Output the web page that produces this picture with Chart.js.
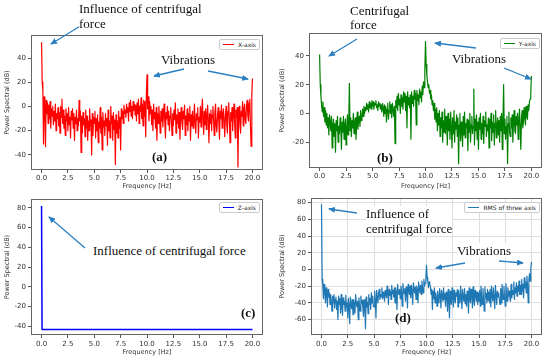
<!DOCTYPE html>
<html>
<head>
<meta charset="utf-8">
<script src="https://cdn.jsdelivr.net/npm/chart.js@4.4.0/dist/chart.umd.min.js"></script>
<style>
body { margin: 0; background: #fff; }
#page { position: relative; width: 550px; height: 360px; overflow: hidden; background: #fff; }
canvas { position: absolute; }
.ann { position: absolute; font-family: 'Liberation Serif', serif; font-size: 13px; line-height: 15px; color: #111; white-space: nowrap; background: #fff; }
.lbl { position: absolute; font-family: 'Liberation Serif', serif; font-size: 13px; line-height: 15px; font-weight: bold; color: #111; }
.leg { position: absolute; box-sizing: border-box; height: 11px; border: 1px solid #ccc; border-radius: 2px; background: #fff;
       font: 6px 'DejaVu Sans', sans-serif; color: #222; display: flex; align-items: center; padding: 0 3px; white-space: nowrap; }
.leg i { display: inline-block; width: 11px; height: 1.5px; margin-right: 4px; }
svg { position: absolute; left: 0; top: 0; }
</style>
</head>
<body>
<div id="page">
  <canvas id="chartX" width="275" height="190" style="left:0;top:0"></canvas>
  <canvas id="chartY" width="275" height="190" style="left:275px;top:0"></canvas>
  <canvas id="chartZ" width="275" height="170" style="left:0;top:190px"></canvas>
  <canvas id="chartRms" width="275" height="170" style="left:275px;top:190px"></canvas>

  <svg width="550" height="360">
    <defs>
      <marker id="ah" markerWidth="7" markerHeight="6" refX="6" refY="3" orient="auto" markerUnits="userSpaceOnUse">
        <path d="M0,0 L7,3 L0,6 z" fill="#2c7fc0"/>
      </marker>
    </defs>
    <g stroke="#2c7fc0" stroke-width="1.3" marker-end="url(#ah)">
      <line x1="82" y1="25" x2="51" y2="44"/>
      <line x1="184" y1="69" x2="154" y2="76"/>
      <line x1="208" y1="71" x2="248" y2="79"/>
      <line x1="357" y1="39" x2="329" y2="56"/>
      <line x1="476" y1="48" x2="435" y2="43"/>
      <line x1="504" y1="68" x2="531" y2="79"/>
      <line x1="85" y1="248" x2="49" y2="217"/>
      <line x1="357" y1="213" x2="329" y2="209"/>
      <line x1="465" y1="263" x2="436" y2="268"/>
      <line x1="499" y1="261" x2="523" y2="263"/>
    </g>
  </svg>

  <div class="ann" style="left:79px;top:1px">Influence of centrifugal<br>force</div>
  <div class="ann" style="left:161px;top:52px">Vibrations</div>
  <div class="ann" style="left:350px;top:4px;line-height:13.5px">Centrifugal<br>force</div>
  <div class="ann" style="left:452px;top:51px">Vibrations</div>
  <div class="ann" style="left:93px;top:243px">Influence of centrifugal force</div>
  <div class="ann" style="left:366px;top:206px">Influence of<br>centrifugal force</div>
  <div class="ann" style="left:457px;top:243px">Vibrations</div>

  <div class="lbl" style="left:152px;top:149px">(a)</div>
  <div class="lbl" style="left:377px;top:150px">(b)</div>
  <div class="lbl" style="left:241px;top:305px">(c)</div>
  <div class="lbl" style="left:395px;top:310px">(d)</div>

  <div class="leg" style="right:290px;top:39px"><i style="background:#ff0000"></i>X-axis</div>
  <div class="leg" style="right:10px;top:38px"><i style="background:#008000"></i>Y-axis</div>
  <div class="leg" style="right:290px;top:202px"><i style="background:#0000ff"></i>Z-axis</div>
  <div class="leg" style="right:10px;top:202px"><i style="background:#1f77b4"></i>RMS of three axis</div>
</div>

<script>
// spectrum bins are 0.0625 Hz apart, 0 .. 20 Hz (one row = 1 Hz)
const freqStep = 0.0625;

const xTicks = [0, 2.5, 5, 7.5, 10, 12.5, 15, 17.5, 20];
const yTicksX = [-40, -20, 0, 20, 40];
const yTicksY = [-20, 0, 20, 40];
const yTicksZ = [-40, -20, 0, 20, 40, 60, 80];
const yTicksRms = [-60, -40, -20, 0, 20, 40, 60, 80];

// (a) X-axis power spectrum (dB)
const xPower = [
    53, 20, 13, -31, 8, 2, -33, 5, -6, 3, -14, 1, -10, 4, -18, -2,
    -8, 0, -15, -4, -12, 2, -20, -6, -10, -1, -16, -5, -22, 0, -9, 6,
    -14, -3, -18, -8, -24, -2, -12, -6, -20, -1, -15, -9, -26, -4, -11, -2,
    -18, -6, -28, -9, -14, -3, -20, -10, -16, 5, -12, -4, -38, -8, -22, -5,
    -15, -10, -25, -3, -18, -8, -28, -12, -20, -2, -16, -11, -40, -6, -24, -9,
    -14, -4, -26, -10, -20, -7, -30, -13, -18, -1, -22, -9, -36, -5, -17, -12,
    -24, -6, -16, -10, -32, -3, -20, -12, -26, 0, -14, -8, -28, -5, -19, -11,
    -48, -7, -22, -12, -26, -4, -18, -9, -36, -2, -10, -4, -14, 1, -6, -3,
    -9, 2, -5, -1, -12, 3, -4, 5, -8, 0, -10, 4, -3, 2, -7, 1,
    -12, 3, -6, 6, -14, 0, -4, 7, -10, 2, -16, 5, -8, 4, -25, 9,
    26, -2, 8, -12, 4, -6, 0, -15, -3, -20, 2, -10, -5, -18, -1, -28,
    -6, -14, 0, -9, -22, -4, -12, -2, -17, -7, 2, -13, -26, -5, -10, 0,
    -15, -4, -20, -8, -1, -12, -24, -6, -16, -3, -11, 3, -22, -7, -14, -2,
    -18, -5, -27, -9, -1, -13, -19, -4, -10, 1, -24, -8, -15, -2, -20, -6,
    -12, 0, -28, -7, -16, -4, -18, -10, 2, -14, -22, -6, -11, -1, -26, -9,
    -13, 0, -17, -5, 6, -10, -23, -4, -15, -2, -19, -8, 1, -12, -30, -6,
    -14, -3, -20, -7, 0, -11, -24, -5, 2, -16, -21, -8, -1, -13, -27, -4,
    -10, 1, -18, -6, -2, -12, -25, -7, 0, -15, -22, -4, 3, -11, -30, -5,
    -12, -1, -20, -6, 2, -14, -26, -3, -9, -1, -50, -7, 0, -15, -22, -4,
    -8, 4, -16, -2, 2, -11, -14, 1, 5, -8, -12, 3, 6, -17, -33, 10,
    23
];

// (b) Y-axis power spectrum (dB)
const yPower = [
    41, 20, 12, 6, 1, 8, -2, 4, -6, 2, -8, 0, -10, -3, -15, -1,
    -6, -12, -2, -24, -8, -4, -16, -7, -27, -5, -12, -2, -20, -9, -14, -3,
    -10, -25, -6, -13, -2, -18, -8, -4, -22, -11, -1, -15, -7, 21, -12, -3,
    -16, -5, -10, 0, -14, -6, -3, -18, -8, 1, -11, -4, -2, -9, 2, -5,
    -4, 3, -2, 5, 0, 4, 2, 7, 3, 6, 1, 8, 4, 7, 3, 9,
    5, 8, 3, 7, 6, 9, 4, 6, 2, 8, 5, 7, 3, 6, 1, 7,
    4, -2, 6, 0, 5, -6, 3, 7, -4, 2, 8, 0, 6, -3, 7, 2,
    -2, 5, -21, 9, 4, 12, 2, 14, 6, 10, 0, 13, 5, 11, 3, 15,
    8, 14, 2, 12, -10, 15, 6, 11, 4, 13, -18, 15, 7, 12, 5, 16,
    10, 14, -8, 16, 9, 13, 6, 17, 11, 15, 8, 19, 13, 22, 18, 30,
    50, 34, 27, 22, 18, 20, 14, 16, 10, 13, 6, 9, 2, 7, -4, 3,
    -6, 4, -12, 0, -8, 2, -16, -3, -10, 1, -20, -5, -13, 3, -14, -2,
    -9, -22, 0, -12, -4, -18, 1, -10, -24, -3, -14, 2, -20, -6, -11, -1,
    -16, -3, -35, -8, 0, -19, -6, -12, -23, -2, -15, 1, -17, -7, -10, -4,
    -26, -5, -13, 0, -20, -8, -2, -14, -9, 17, -22, -4, -12, -1, -18, -6,
    -25, -3, -11, 0, -18, -7, -14, -2, -21, -5, -9, 1, -16, -8, -12, -3,
    -24, -4, -10, 0, -19, -6, -13, -1, -22, -7, 2, -17, -9, -3, -15, -5,
    -20, -2, -12, 0, -25, -6, 20, -14, -4, -18, -9, -2, -35, -7, 1, -13,
    -16, -3, -10, -1, -20, -6, 2, -12, -14, -2, -8, 0, -18, -5, 3, -9,
    -25, -4, 2, -10, -6, 4, -3, -8, 5, -1, -4, 6, 2, 8, 10, 14,
    26
];

// (c) Z-axis: one spike at 0 Hz, flat floor after it
const zFreq = [0, 0.05, 20];
const zPower = [82, -43.5, -43.5];

// (d) RMS of the three axes (dB)
const rmsPower = [
    78, -12, -20, -35, -18, -26, -40, -22, -30, -45, -24, -33, -28, -42, -30, -38,
    -50, -32, -40, -30, -46, -36, -33, -48, -38, -60, -32, -42, -35, -52, -30, -44,
    -55, -34, -42, -38, -50, -31, -45, -40, -58, -35, -44, -65, -33, -40, -47, -36,
    -54, -36, -42, -52, -30, -40, -45, -38, -60, -34, -43, -50, -32, -41, -37, -46,
    -56, -36, -42, -71, -33, -45, -39, -53, -30, -42, -35, -48, -28, -40, -32, -44,
    -45, -26, -38, -58, -25, -34, -40, -28, -24, -36, -30, -33, -22, -35, -27, -31,
    -38, -25, -30, -34, -20, -28, -42, -24, -31, -26, -36, -19, -29, -25, -33, -22,
    -40, -22, -28, -48, -18, -26, -30, -24, -35, -20, -27, -44, -17, -25, -29, -23,
    -38, -21, -27, -46, -18, -24, -30, -20, -34, -19, -26, -42, -16, -23, -28, -21,
    -36, -20, -25, -40, -15, -23, -28, -19, -30, -14, -22, -28, -12, -20, -16, -10,
    5, -10, -14, -22, -15, -18, -20, -30, -24, -48, -26, -35, -22, -40, -28, -33,
    -44, -26, -34, -40, -23, -30, -46, -25, -32, -38, -22, -36, -29, -44, -27, -31,
    -50, -24, -35, -58, -26, -38, -42, -22, -33, -45, -25, -36, -40, -28, -32, -24,
    -45, -25, -36, -40, -20, -33, -47, -24, -34, -38, -23, -41, -30, -44, -26, -32,
    -52, -22, -35, -40, -24, -31, -46, -21, -37, -43, -25, -30, -38, -27, -42, -28,
    -38, -25, -44, -20, -33, -42, -23, -36, -50, -21, -34, -29, -40, -24, -37, -27,
    -40, -24, -45, -20, -32, -38, -22, -35, -47, -19, -31, -42, -26, -33, -28, -36,
    -42, -23, -40, -18, -30, -36, -20, -33, -44, -17, -29, -38, -22, -32, -26, -34,
    -38, -18, -34, -25, -30, -15, -36, -22, -28, -16, -32, -20, -26, -14, -30, -19,
    -30, -12, -26, -18, -34, -10, -22, -15, -28, -8, -20, -40, -12, -5, -14, 2,
    9
];

const fontFamily = "'DejaVu Sans', sans-serif";

// matplotlib-like box around the axes
const framePlugin = {
    id: 'frame',
    afterDraw(chart) {
        const a = chart.chartArea;
        const ctx = chart.ctx;
        ctx.save();
        ctx.strokeStyle = '#666';
        ctx.lineWidth = 1;
        ctx.strokeRect(Math.round(a.left) + 0.5, Math.round(a.top) + 0.5,
            Math.round(a.right - a.left) - 1, Math.round(a.bottom - a.top) - 1);
        ctx.restore();
    }
};

function spectrumChart(id, freqs, power, color, lw, yTicks, yMin, yMax, box, withGrid) {
    const pts = power.map((p, i) => ({ x: freqs[i], y: p }));
    return new Chart(document.getElementById(id), {
        type: 'line',
        data: {
            datasets: [{
                data: pts,
                borderColor: color,
                borderWidth: lw,
                borderJoinStyle: 'round',
                pointRadius: 0,
                tension: 0,
                fill: false
            }]
        },
        options: {
            responsive: false,
            animation: false,
            events: [],
            layout: { padding: { left: 0, right: box.right, top: box.top, bottom: 0 } },
            plugins: { legend: { display: false }, tooltip: { enabled: false } },
            scales: {
                x: {
                    type: 'linear',
                    min: -1,
                    max: 21,
                    afterBuildTicks: s => { s.ticks = xTicks.map(v => ({ value: v })); },
                    afterFit: s => { s.height = box.xh; },
                    border: { display: false },
                    grid: { drawOnChartArea: withGrid, color: '#dedede', tickColor: '#555', tickLength: 3 },
                    ticks: { color: '#333', font: { family: fontFamily, size: 7 }, padding: box.tp, maxRotation: 0, autoSkip: false,
                             callback: v => v.toFixed(1) },
                    title: { display: true, text: 'Frequency [Hz]', color: '#333', font: { family: fontFamily, size: 6.5 },
                             padding: { top: 0, bottom: box.tb } }
                },
                y: {
                    min: yMin,
                    max: yMax,
                    afterBuildTicks: s => { s.ticks = yTicks.map(v => ({ value: v })); },
                    afterFit: s => { s.width = box.yw; },
                    border: { display: false },
                    grid: { drawOnChartArea: withGrid, color: '#dedede', tickColor: '#555', tickLength: 3 },
                    ticks: { color: '#333', font: { family: fontFamily, size: 7 }, padding: 2, autoSkip: false },
                    title: { display: true, text: 'Power Spectral (dB)', color: '#333', font: { family: fontFamily, size: 6.5 },
                             padding: { top: 3, bottom: 0 } }
                }
            }
        },
        plugins: [framePlugin]
    });
}

const binFreqs = xPower.map((_, i) => i * freqStep);

spectrumChart('chartX', binFreqs, xPower, '#ff0000', 1.2, yTicksX, -52.5, 59,
    { right: 12, top: 35, xh: 20, yw: 31, tp: 1, tb: 0 }, false);
spectrumChart('chartY', binFreqs, yPower, '#008000', 1.2, yTicksY, -38, 56,
    { right: 8, top: 33, xh: 22, yw: 34, tp: 1, tb: 0 }, false);
spectrumChart('chartZ', zFreq, zPower, '#0000ff', 1.5, yTicksZ, -49, 89,
    { right: 12, top: 9, xh: 25, yw: 31, tp: 2, tb: 4 }, false);
spectrumChart('chartRms', binFreqs, rmsPower, '#1f77b4', 1.2, yTicksRms, -78.5, 85.5,
    { right: 8, top: 8, xh: 25, yw: 36, tp: 2, tb: 4 }, true);
</script>
</body>
</html>
